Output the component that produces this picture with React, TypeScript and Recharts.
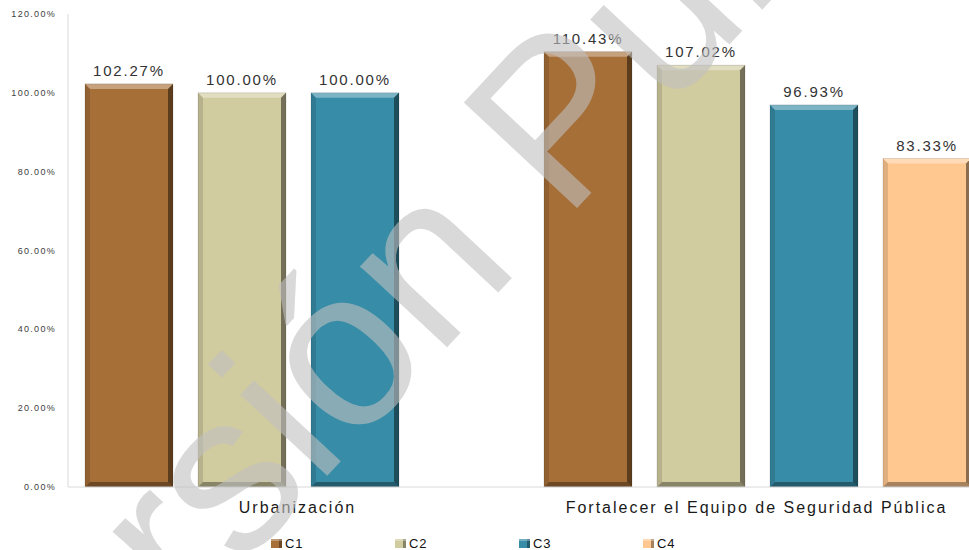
import React from 'react';
import { BarChart, Bar, XAxis, YAxis, ReferenceLine, Legend, LabelList } from 'recharts';

const categories = ['Urbanización', 'Fortalecer el Equipo de Seguridad Pública'];
const seriesNames = ['C1', 'C2', 'C3', 'C4'];
const c1Values = [102.27, 110.43];
const c2Values = [100.0, 107.02];
const c3Values = [100.0, 96.93];
const c4Values: (number | null)[] = [null, 83.33];
const yTicks = [0, 20, 40, 60, 80, 100, 120];
const colors = ['#A66F38', '#D1CBA0', '#378DA7', '#FFC891'];
const watermarkText = 'Versión Pública';

const data = categories.map((name, i) => ({
  name,
  C1: c1Values[i],
  C2: c2Values[i],
  C3: c3Values[i],
  C4: c4Values[i],
}));

const BevelBar = (props: any) => {
  const { x, y, width, height, fill } = props;
  if (!height || height <= 0 || x == null) return null;
  const b = 5;
  const w = width;
  const h = height;
  return (
    <g>
      <rect x={x} y={y} width={w} height={h} fill={fill} />
      <polygon points={`${x},${y} ${x + w},${y} ${x + w - b},${y + b} ${x + b},${y + b}`} fill="#ffffff" fillOpacity={0.35} />
      <polygon points={`${x},${y} ${x + b},${y + b} ${x + b},${y + h - b} ${x},${y + h}`} fill="#000000" fillOpacity={0.12} />
      <polygon points={`${x + w},${y} ${x + w},${y + h} ${x + w - b},${y + h - b} ${x + w - b},${y + b}`} fill="#000000" fillOpacity={0.45} />
      <polygon points={`${x},${y + h} ${x + w},${y + h} ${x + w - b},${y + h - b} ${x + b},${y + h - b}`} fill="#000000" fillOpacity={0.35} />
      <rect x={x} y={y} width={w} height={h} fill="none" stroke="#000000" strokeOpacity={0.15} strokeWidth={0.8} />
    </g>
  );
};

const ValueLabel = (props: any) => {
  const { x, y, width, value } = props;
  if (value == null) return null;
  return (
    <text
      x={x + width / 2}
      y={y - 8}
      textAnchor="middle"
      fontFamily="Liberation Sans, Arial, sans-serif"
      fontSize={15}
      letterSpacing={1.8}
      fill="#333333"
    >
      {`${Number(value).toFixed(2)}%`}
    </text>
  );
};

const XTick = (props: any) => {
  const { x, y, payload } = props;
  return (
    <text
      x={x}
      y={y + 26}
      textAnchor="middle"
      fontFamily="Liberation Sans, Arial, sans-serif"
      fontSize={16}
      letterSpacing={2.0}
      fill="#1a1a1a"
    >
      {payload.value}
    </text>
  );
};

const YTick = (props: any) => {
  const { x, y, payload } = props;
  return (
    <text
      x={x - 12}
      y={y + 3}
      textAnchor="end"
      fontFamily="Liberation Sans, Arial, sans-serif"
      fontSize={9}
      letterSpacing={1.3}
      fill="#404040"
    >
      {`${Number(payload.value).toFixed(2)}%`}
    </text>
  );
};

const LegendContent = () => (
  <div style={{ position: 'relative', width: 990, height: 33 }}>
    {seriesNames.map((name, i) => (
      <div
        key={name}
        style={{
          position: 'absolute',
          left: 271 + i * 124,
          top: 19,
          display: 'flex',
          alignItems: 'center',
          fontFamily: 'Liberation Sans, Arial, sans-serif',
          fontSize: 13,
          letterSpacing: 0.8,
          color: '#111111',
        }}
      >
        <svg width={12} height={10} style={{ marginRight: 2 }}>
          <rect x={0} y={0} width={11} height={9} fill={colors[i]} />
          <rect x={8} y={0} width={3} height={9} fill="#000" fillOpacity={0.35} />
          <rect x={0} y={0} width={11} height={2} fill="#fff" fillOpacity={0.3} />
        </svg>
        <span>{name}</span>
      </div>
    ))}
  </div>
);

export default function App() {
  return (
    <div style={{ position: 'absolute', left: 0, top: 0, width: 969, height: 550, overflow: 'hidden', background: '#ffffff' }}>
      <BarChart
        width={990}
        height={550}
        data={data}
        margin={{ top: 14, right: 4, left: 0, bottom: 0 }}
        barCategoryGap={17}
        barGap={25}
      >
        <XAxis
          dataKey="name"
          height={30}
          tickLine={false}
          tickSize={0}
          tickMargin={0}
          axisLine={{ stroke: '#d9d9d9' }}
          tick={<XTick />}
          interval={0}
        />
        <XAxis xAxisId="div" type="number" domain={[0, 2]} hide />
        <YAxis
          width={68}
          domain={[0, 120]}
          ticks={yTicks}
          tickLine={false}
          tickSize={0}
          tickMargin={0}
          axisLine={{ stroke: '#d9d9d9' }}
          tick={<YTick />}
          interval={0}
        />
        <ReferenceLine xAxisId="div" x={1} stroke="#d9d9d9" />
        <Legend
          verticalAlign="bottom"
          height={33}
          content={<LegendContent />}
          wrapperStyle={{ left: 0, width: 990 }}
        />
        {seriesNames.map((s, i) => (
          <Bar key={s} dataKey={s} fill={colors[i]} shape={<BevelBar />} isAnimationActive={false}>
            <LabelList dataKey={s} content={<ValueLabel />} />
          </Bar>
        ))}
      </BarChart>
      <svg
        width={969}
        height={550}
        style={{ position: 'absolute', left: 0, top: 0, pointerEvents: 'none' }}
      >
        <text
          x={10}
          y={816}
          transform="rotate(-47 10 816)"
          fontFamily="Liberation Sans, Arial, sans-serif"
          fontSize={225}
          fill="#bfbfbf"
          fillOpacity={0.6}
        >
          {watermarkText}
        </text>
      </svg>
    </div>
  );
}
